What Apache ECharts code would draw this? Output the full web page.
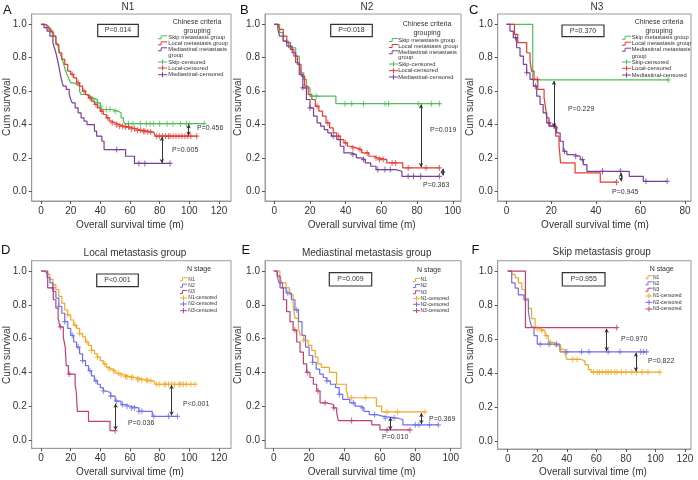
<!DOCTYPE html>
<html><head><meta charset="utf-8">
<script src="https://cdn.jsdelivr.net/npm/echarts@6/dist/echarts.min.js"></script>
<style>html,body{margin:0;padding:0;background:#fff}#c{width:698px;height:480px}</style>
</head><body><div id="c"></div>
<script>
// ---------- tick labels ----------
const xTicks120 = [0, 20, 40, 60, 80, 100, 120];
const xTicks100 = [0, 20, 40, 60, 80, 100];
const xTicks80 = [0, 20, 40, 60, 80];
const yTicks = [0, 0.2, 0.4, 0.6, 0.8, 1.0];

// ---------- Panel A: N1 (Kaplan-Meier steps [month, survival]) ----------
const skipA = [[0,1],[3,0.99],[5,0.97],[7,0.95],[8.5,0.93],[10,0.9],[11,0.88],[12,0.85],[13,0.82],[14,0.8],[15,0.77],[16,0.74],[17,0.71],[18,0.69],[19,0.67],[20,0.65],[22,0.64],[24,0.63],[26,0.6],[27,0.58],[30,0.57],[33,0.56],[35,0.55],[38,0.53],[40,0.51],[41,0.49],[48,0.48],[52,0.47],[54,0.44],[55.5,0.42],[56.5,0.405],[110,0.405]];
const localA = [[0,1],[2,0.995],[4,0.98],[6,0.96],[8,0.93],[10,0.88],[12,0.83],[14,0.79],[16,0.76],[18,0.72],[20,0.7],[22,0.68],[24,0.65],[26,0.63],[28,0.6],[30,0.58],[32,0.56],[34,0.54],[36,0.52],[38,0.5],[40,0.48],[42,0.46],[44,0.44],[46,0.42],[48,0.41],[50,0.4],[53,0.39],[56,0.385],[60,0.375],[64,0.365],[68,0.36],[72,0.355],[76,0.345],[77,0.33],[105,0.33]];
const medA = [[0,1],[2,0.98],[4,0.96],[6,0.93],[8,0.89],[9,0.86],[10,0.83],[11,0.79],[12,0.75],[13,0.7],[14,0.66],[15,0.63],[17,0.61],[19,0.58],[20,0.55],[21,0.53],[23,0.5],[25,0.47],[27,0.44],[29,0.42],[31,0.4],[36,0.36],[37.5,0.33],[41,0.3],[42.5,0.25],[57,0.21],[63,0.167],[87,0.167]];
const cSkipA = [35, 38, 40, 44, 46.5, 50, 59, 62, 67, 71, 73.5, 76, 80, 85, 89, 94, 98, 100, 110];
const cLocalA = [21, 25, 29, 33, 37, 41, 45, 48, 51, 53, 55, 57, 59, 61, 63, 65, 67, 69, 70, 72, 74, 78, 80, 82, 84, 86, 87, 89, 91, 93, 95, 97, 99, 101, 105];
const cMedA = [51, 66, 70, 87];
const arrowsA = [[99.5, 0.40, 0.335], [81.5, 0.325, 0.17]];

// ---------- Panel B: N2 ----------
const skipB = [[0,1],[3,0.95],[5,0.9],[8,0.86],[12,0.81],[14,0.76],[15,0.71],[16.5,0.67],[18,0.62],[20,0.57],[34.5,0.525],[93,0.525]];
const localB = [[0,1],[2,0.99],[3,0.97],[5,0.93],[7,0.89],[9,0.85],[11,0.81],[13,0.76],[15,0.69],[17,0.63],[19,0.58],[21,0.55],[23,0.51],[25,0.48],[27,0.45],[29,0.41],[31,0.38],[33,0.35],[35,0.33],[37,0.31],[39,0.29],[41,0.27],[43,0.26],[46,0.25],[49,0.23],[53,0.21],[56,0.2],[58,0.19],[63,0.17],[72,0.14],[92.5,0.14]];
const medB = [[0,1],[2,0.97],[3,0.93],[5,0.9],[7,0.87],[10,0.83],[12,0.77],[14,0.7],[16,0.62],[18,0.55],[20,0.5],[22,0.45],[24,0.41],[26,0.39],[28,0.37],[30,0.35],[32,0.33],[35,0.31],[37,0.27],[39,0.23],[43,0.22],[46,0.2],[49,0.19],[51,0.17],[54,0.15],[57,0.13],[68,0.12],[71.5,0.09],[92.5,0.09]];
const cSkipB = [21, 23.5, 39.6, 43.4, 50, 62, 64, 80.7, 88, 92.5];
const cLocalB = [24, 30, 36, 40, 44, 48, 52, 57, 59, 61, 66, 68, 75, 85, 92.5];
const cMedB = [16, 20, 33, 44, 50, 58, 62, 65, 75, 78, 82, 92.5];
const arrowsB = [[82.2, 0.52, 0.145], [94.4, 0.135, 0.095]];

// ---------- Panel C: N3 ----------
const skipC = [[0,1],[11.7,0.667],[72.5,0.667]];
const localC = [[0,1],[3.5,0.94],[5,0.89],[9,0.83],[10.5,0.78],[11.2,0.72],[12.3,0.67],[14,0.61],[16.8,0.56],[17.5,0.5],[18,0.44],[19,0.39],[22,0.33],[23.5,0.28],[24.2,0.17],[30.7,0.11],[42,0.055],[49.3,0.055]];
const medC = [[0,1],[1.5,0.96],[3,0.92],[4.5,0.86],[6,0.81],[7.5,0.76],[9,0.71],[10.5,0.67],[12,0.63],[13.5,0.57],[15,0.52],[16.4,0.47],[18,0.41],[19.4,0.39],[21,0.38],[22.4,0.35],[24,0.3],[25.4,0.24],[27,0.22],[30,0.21],[33,0.19],[34.4,0.16],[36,0.12],[55,0.09],[61.3,0.06],[72,0.06]];
const cSkipC = [72.5];
const cLocalC = [13.8, 21.7, 49.3];
const cMedC = [4, 9, 13, 19, 22, 26, 31, 34, 43, 51, 62.5, 72];
const arrowsC = [[21.2, 0.66, 0.385], [51.3, 0.11, 0.06]];

// ---------- Panel D: Local metastasis group ----------
const n1D = [[0,1],[2,0.995],[4,0.98],[6,0.95],[8,0.92],[10,0.89],[12,0.85],[14,0.81],[16,0.77],[18,0.74],[20,0.71],[22,0.68],[24,0.66],[26,0.63],[28,0.61],[30,0.58],[32,0.56],[34,0.53],[36,0.51],[38,0.49],[40,0.47],[42,0.45],[44,0.43],[46,0.42],[48,0.41],[50,0.395],[53,0.385],[56,0.375],[60,0.37],[64,0.36],[68,0.355],[72,0.35],[76,0.345],[77,0.33],[104,0.33]];
const n2D = [[0,1],[2,0.99],[4,0.96],[6,0.93],[8,0.88],[10,0.84],[12,0.79],[14,0.75],[16,0.7],[18,0.66],[20,0.62],[22,0.58],[24,0.55],[26,0.51],[28,0.47],[30,0.44],[32,0.41],[34,0.38],[36,0.35],[38,0.33],[40,0.31],[42,0.29],[44,0.28],[47,0.26],[50,0.23],[54,0.21],[57,0.2],[60,0.19],[66,0.17],[75,0.14],[92,0.14]];
const n3D = [[0,1],[4.5,0.9],[8.3,0.83],[10,0.78],[11.5,0.72],[12.8,0.67],[15,0.61],[16.3,0.55],[17,0.44],[18.4,0.39],[23,0.33],[23.8,0.28],[24.5,0.17],[32,0.11],[46.5,0.055],[50,0.055]];
const cN1D = [18, 23, 26, 31, 34, 38, 43, 46, 49, 52, 54, 57, 58, 61, 62, 65, 66, 68, 71, 72, 74, 78, 80, 83, 84, 86, 88, 90, 93, 94, 96, 98, 101, 104];
const cN2D = [12, 16, 21, 25, 28, 33, 37, 42, 47, 51, 55, 58, 61, 63, 66, 68, 76, 86, 92];
const cN3D = [8, 13, 19, 50];
const arrowsD = [[88, 0.325, 0.145], [50.3, 0.215, 0.06]];

// ---------- Panel E: Mediastinal metastasis group ----------
const n1E = [[0,1],[3.5,0.97],[4.5,0.93],[7,0.9],[9,0.86],[11,0.8],[12,0.72],[14,0.66],[15,0.62],[17,0.59],[19.5,0.56],[21.5,0.53],[23.5,0.49],[25,0.45],[27,0.43],[31.5,0.4],[35.5,0.33],[41,0.3],[42,0.25],[58,0.2],[61,0.167],[85.5,0.167]];
const n2E = [[0,1],[2,0.97],[3,0.93],[5,0.9],[7,0.87],[10,0.83],[12,0.77],[14,0.7],[16,0.62],[18,0.55],[20,0.5],[22,0.46],[24,0.42],[26,0.39],[28,0.37],[30,0.35],[32,0.33],[35,0.31],[37,0.27],[39,0.24],[43,0.22],[46,0.2],[49,0.19],[51,0.17],[54,0.15],[58,0.14],[62,0.13],[70,0.12],[73,0.09],[93,0.09]];
const n3E = [[0,1],[2,0.97],[3.6,0.9],[5.5,0.83],[7.3,0.76],[9.2,0.7],[11,0.65],[13,0.58],[14.9,0.52],[16.8,0.45],[18.6,0.4],[20.5,0.37],[22.4,0.33],[24.3,0.29],[26.2,0.22],[30,0.21],[33.7,0.19],[35.6,0.16],[36.5,0.115],[55.4,0.09],[60,0.06],[77,0.06]];
const cN1E = [17, 44, 52, 64, 70, 85.5];
const cN2E = [8, 13, 22, 30, 37, 45, 50, 57, 63, 68, 80, 82, 88, 93];
const cN3E = [12, 19, 25, 29, 34, 44, 64, 77];
const arrowsE = [[83.4, 0.16, 0.095], [65.9, 0.135, 0.06]];

// ---------- Panel F: Skip metastasis group ----------
const n1F = [[0,1],[2.7,0.98],[5,0.96],[7.2,0.93],[9.5,0.89],[11.7,0.84],[14,0.78],[16.2,0.72],[18.5,0.67],[20,0.66],[22,0.65],[25.3,0.62],[27.5,0.58],[32,0.56],[35.4,0.54],[38.8,0.52],[40,0.48],[50,0.47],[52.3,0.45],[54.6,0.42],[56.4,0.405],[103,0.405]];
const n2F = [[0,1],[2.7,0.93],[5,0.9],[7.2,0.86],[11,0.83],[14,0.76],[15,0.71],[16.2,0.67],[17.8,0.62],[20,0.57],[35.4,0.525],[94,0.525]];
const n3F = [[0,1],[12,0.667],[73.8,0.667]];
const cN1F = [20, 23, 26, 29, 36, 39, 44, 47, 58, 60.5, 62, 64, 66.5, 68, 70, 72.5, 74, 77, 80, 84, 87, 91, 95, 103];
const cN2F = [22, 28, 33, 40, 50, 55, 68, 76, 90, 92, 94];
const cN3F = [73.8];
const arrowsF = [[67, 0.66, 0.53], [86.8, 0.52, 0.41]];

// ---------- styles ----------
const GREEN = '#4dbd58', RED = '#e8392f', PURPLE = '#7b3d99';
const ORANGE = '#f5a623', BLUE = '#6e6ef0', CRIMSON = '#bf3f76';
const FONT = '"Liberation Sans", Arial, Helvetica, sans-serif';
const TXT = '#333';
const PLUS = 'path://M4,0H6V4H10V6H6V10H4V6H0V4H4Z';

function survAt(curve, t) {
  let s = 1;
  for (const p of curve) { if (p[0] <= t) s = p[1]; }
  return s;
}

const panels = [
  { letter: 'A', title: 'N1', grid: {left: 31.7, top: 14, width: 199.3, height: 187}, xr: [-6.3, 128.1], yr: [-0.058, 1.062], xt: xTicks120,
    curves: [[skipA, cSkipA, GREEN], [localA, cLocalA, RED], [medA, cMedA, PURPLE]], arrows: arrowsA },
  { letter: 'B', title: 'N2', grid: {left: 265, top: 14, width: 196, height: 187}, xr: [-5.2, 104.6], yr: [-0.058, 1.062], xt: xTicks100,
    curves: [[skipB, cSkipB, GREEN], [localB, cLocalB, RED], [medB, cMedB, PURPLE]], arrows: arrowsB },
  { letter: 'C', title: 'N3', grid: {left: 497.7, top: 14, width: 193.3, height: 187}, xr: [-4.0, 82.7], yr: [-0.058, 1.062], xt: xTicks80,
    curves: [[skipC, cSkipC, GREEN], [localC, cLocalC, RED], [medC, cMedC, PURPLE]], arrows: arrowsC },
  { letter: 'D', title: 'Local metastasis group', grid: {left: 31.7, top: 260.7, width: 199.3, height: 187.6}, xr: [-6.3, 128.1], yr: [-0.049, 1.061], xt: xTicks120,
    curves: [[n1D, cN1D, ORANGE], [n2D, cN2D, BLUE], [n3D, cN3D, CRIMSON]], arrows: arrowsD },
  { letter: 'E', title: 'Mediastinal metastasis group', grid: {left: 265, top: 260.7, width: 196, height: 187.6}, xr: [-4.9, 105.8], yr: [-0.049, 1.061], xt: xTicks100,
    curves: [[n1E, cN1E, ORANGE], [n2E, cN2E, BLUE], [n3E, cN3E, CRIMSON]], arrows: arrowsE },
  { letter: 'F', title: 'Skip metastasis group', grid: {left: 497.7, top: 260.7, width: 193.3, height: 188.3}, xr: [-6.8, 124.1], yr: [-0.047, 1.061], xt: xTicks120,
    curves: [[n1F, cN1F, ORANGE], [n2F, cN2F, BLUE], [n3F, cN3F, CRIMSON]], arrows: arrowsF }
];

// text annotations (layout)
const pBoxes = [
  [97.7, 24.3, 40.6, 12.4, 'P=0.014'], [330.7, 24.3, 41.6, 12.4, 'P=0.018'], [562, 25, 42, 11.7, 'P=0.370'],
  [96.7, 274, 41.6, 12.7, 'P<0.001'], [329.3, 272.7, 42.4, 13.3, 'P=0.009'], [562.3, 272.7, 42.7, 13.3, 'P=0.955']
];
const pLabels = [
  [197, 128, 'P=0.456'], [172, 150, 'P=0.005'], [430, 130, 'P=0.019'], [423, 185, 'P=0.363'],
  [568, 109, 'P=0.229'], [612, 192, 'P=0.945'], [183, 404, 'P<0.001'], [128, 423, 'P=0.036'],
  [429, 419, 'P=0.369'], [382, 437, 'P=0.010'], [621, 339, 'P=0.970'], [648, 361, 'P=0.822']
];
const letterPos = [[3, 10], [240, 10], [469, 10], [1, 250.5], [241.5, 250.5], [471.5, 250.5]];
const titlePos = [[128, 7], [367, 7], [597, 7], [135, 253], [366.7, 253], [601.7, 252]];
const yNamePos = [[7.5, 107], [238, 107], [470.7, 107], [7.5, 355], [238.3, 355], [470.7, 355]];
const xNamePos = [[130, 225.3], [361.7, 225.3], [595, 225.3], [130, 472], [361.7, 472], [593, 472]];

const legA = ['Skip metastasis group', 'Local metastasis group', 'Mediastinal metastasis', 'Skip-censored', 'Local-censored', 'Mediastinal-censored'];
const legN = ['N1', 'N2', 'N3', 'N1-censored', 'N2-censored', 'N3-censored'];
const legends = [
  {cx: 197, t: [22.3, 31.5], ix: 158, tx: 168.3, ys: [37.3, 43.3, 49.3, 62, 68, 74.7], g: 55.3, cols: [GREEN, RED, PURPLE], labels: legA, fs: 5.8},
  {cx: 427, t: [24, 33], ix: 389, tx: 398.3, ys: [40, 46, 52.3, 64, 70.7, 77], g: 57.7, cols: [GREEN, RED, PURPLE], labels: legA, fs: 5.8},
  {cx: 659, t: [22, 30.7], ix: 622, tx: 631.7, ys: [37.7, 43.7, 49.7, 62, 68.3, 75], g: 56, cols: [GREEN, RED, PURPLE], labels: legA, fs: 5.8},
  {cx: 199, t: [269.3], ix: 180, tx: 188.3, ys: [279.3, 285.7, 292, 298, 304, 310.7], cols: [ORANGE, BLUE, CRIMSON], labels: legN, fs: 5},
  {cx: 429, t: [270], ix: 413, tx: 420.5, ys: [280, 286, 292.3, 298.3, 304.3, 310.7], cols: [ORANGE, BLUE, CRIMSON], labels: legN, fs: 5},
  {cx: 661.7, t: [268.7], ix: 645.5, tx: 653, ys: [277.3, 283.3, 289.7, 296, 302.3, 309], cols: [ORANGE, BLUE, CRIMSON], labels: legN, fs: 5}
];

const grids = [], xAxes = [], yAxes = [], series = [], graphics = [];

panels.forEach((p, i) => {
  grids.push(Object.assign({show: true, borderColor: '#9a9a9a', borderWidth: 1, backgroundColor: 'transparent'}, p.grid));
  xAxes.push({
    type: 'value', gridIndex: i, min: p.xr[0], max: p.xr[1],
    axisLine: {show: true, onZero: false, lineStyle: {color: '#9a9a9a'}},
    axisTick: {show: true, customValues: p.xt, length: 3, lineStyle: {color: '#555'}},
    axisLabel: {customValues: p.xt, fontSize: 10, color: TXT, margin: 5, fontFamily: FONT},
    splitLine: {show: false}
  });
  yAxes.push({
    type: 'value', gridIndex: i, min: p.yr[0], max: p.yr[1],
    axisLine: {show: true, onZero: false, lineStyle: {color: '#9a9a9a'}},
    axisTick: {show: true, customValues: yTicks, length: 3, lineStyle: {color: '#555'}},
    axisLabel: {customValues: yTicks, fontSize: 10, color: TXT, margin: 5, fontFamily: FONT, formatter: v => v.toFixed(1)},
    splitLine: {show: false}
  });
  p.curves.forEach((c, k) => {
    const s = {
      type: 'line', step: 'end', xAxisIndex: i, yAxisIndex: i, data: c[0],
      showSymbol: false, symbol: 'none', lineStyle: {color: c[2], width: 1.2}, itemStyle: {color: c[2]},
      silent: true, z: 3
    };
    if (k === 0) {
      s.markLine = {
        silent: true, symbol: ['arrow', 'arrow'], symbolSize: [3.5, 4], label: {show: false},
        lineStyle: {color: '#333', width: 1, type: 'solid'}, emphasis: {disabled: true},
        data: p.arrows.map(a => [{coord: [a[0], a[1]]}, {coord: [a[0], a[2]]}])
      };
    }
    series.push(s);
    series.push({
      type: 'scatter', xAxisIndex: i, yAxisIndex: i,
      data: c[1].map(t => [t, survAt(c[0], t)]),
      symbol: PLUS, symbolSize: [5, 6], itemStyle: {color: c[2]}, silent: true, z: 4
    });
  });

  // panel letter, title, axis names
  graphics.push({type: 'text', x: letterPos[i][0], y: letterPos[i][1], style: {text: p.letter, fontSize: 13, fontFamily: FONT, fill: '#111', align: 'left', verticalAlign: 'middle'}});
  graphics.push({type: 'text', x: titlePos[i][0], y: titlePos[i][1], style: {text: p.title, fontSize: 10, fontFamily: FONT, fill: TXT, align: 'center', verticalAlign: 'middle'}});
  graphics.push({type: 'text', x: yNamePos[i][0], y: yNamePos[i][1], rotation: Math.PI / 2, style: {text: 'Cum survival', fontSize: 10, fontFamily: FONT, fill: TXT, align: 'center', verticalAlign: 'middle'}});
  graphics.push({type: 'text', x: xNamePos[i][0], y: xNamePos[i][1], style: {text: 'Overall survival time (m)', fontSize: 10, fontFamily: FONT, fill: TXT, align: 'center', verticalAlign: 'middle'}});

  // P box
  const b = pBoxes[i];
  graphics.push({type: 'rect', shape: {x: b[0], y: b[1], width: b[2], height: b[3]}, style: {fill: '#fff', stroke: '#333', lineWidth: 1.2}, z: 10});
  graphics.push({type: 'text', x: b[0] + b[2] / 2, y: b[1] + b[3] / 2, style: {text: b[4], fontSize: 7, fontFamily: FONT, fill: TXT, align: 'center', verticalAlign: 'middle'}, z: 11});

  // legend
  const L = legends[i];
  graphics.push({type: 'text', x: L.cx, y: L.t[0], style: {text: i < 3 ? 'Chinese criteria' : 'N stage', fontSize: 7, fontFamily: FONT, fill: TXT, align: 'center', verticalAlign: 'middle'}, z: 10});
  if (L.t[1]) graphics.push({type: 'text', x: L.cx, y: L.t[1], style: {text: 'grouping', fontSize: 7, fontFamily: FONT, fill: TXT, align: 'center', verticalAlign: 'middle'}, z: 10});
  const iw = i < 3 ? 9 : 7;
  L.ys.forEach((y, j) => {
    const col = L.cols[j % 3];
    if (j < 3) {
      graphics.push({type: 'polyline', shape: {points: [[L.ix, y + 1.5], [L.ix + iw * 0.35, y + 1.5], [L.ix + iw * 0.35, y - 1.5], [L.ix + iw, y - 1.5]]}, style: {stroke: col, lineWidth: 1, fill: null}, z: 10});
    } else {
      graphics.push({type: 'line', shape: {x1: L.ix, y1: y, x2: L.ix + iw, y2: y}, style: {stroke: col, lineWidth: 1}, z: 10});
      graphics.push({type: 'line', shape: {x1: L.ix + iw / 2, y1: y - 2.5, x2: L.ix + iw / 2, y2: y + 2.5}, style: {stroke: col, lineWidth: 1}, z: 10});
    }
    graphics.push({type: 'text', x: L.tx, y: y, style: {text: L.labels[j], fontSize: L.fs, fontFamily: FONT, fill: TXT, align: 'left', verticalAlign: 'middle'}, z: 10});
  });
  if (L.g) graphics.push({type: 'text', x: L.tx, y: L.g, style: {text: 'group', fontSize: L.fs, fontFamily: FONT, fill: TXT, align: 'left', verticalAlign: 'middle'}, z: 10});
});

pLabels.forEach(l => {
  graphics.push({type: 'text', x: l[0], y: l[1], style: {text: l[2], fontSize: 7, fontFamily: FONT, fill: TXT, align: 'left', verticalAlign: 'middle'}, z: 10});
});

const chart = echarts.init(document.getElementById('c'), null, {renderer: 'canvas', width: 698, height: 480});
chart.setOption({
  animation: false,
  backgroundColor: '#fff',
  textStyle: {fontFamily: FONT},
  grid: grids, xAxis: xAxes, yAxis: yAxes, series: series, graphic: graphics
});
</script>
</body></html>
